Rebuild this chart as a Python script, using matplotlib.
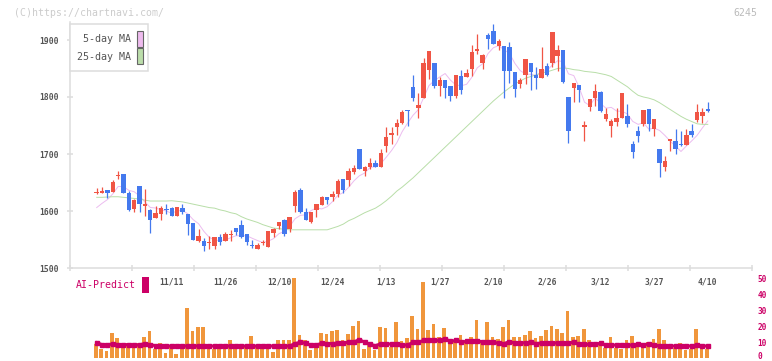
import matplotlib
matplotlib.use('Agg')
import matplotlib.pyplot as plt
from matplotlib.patches import Rectangle
from matplotlib.transforms import ScaledTranslation
import numpy as np

# daily prices (115 sessions, 2024/11 - 2025/4/10)
opens = [1631, 1632, 1636, 1634, 1662, 1665, 1632, 1604, 1644, 1609,
         1602, 1588, 1595, 1604, 1605, 1591, 1605, 1595, 1579, 1548,
         1547, 1544, 1539, 1554, 1548, 1558, 1570, 1575, 1560, 1540,
         1534, 1544, 1537, 1562, 1574, 1585, 1568, 1609, 1637, 1599,
         1580, 1602, 1611, 1624, 1625, 1629, 1656, 1654, 1668, 1709,
         1670, 1677, 1684, 1677, 1714, 1733, 1747, 1755, 1778, 1817,
         1780, 1798, 1848, 1860, 1819, 1830, 1819, 1802, 1837, 1835,
         1850, 1881, 1859, 1909, 1916, 1889, 1889, 1888, 1844, 1823,
         1838, 1860, 1839, 1834, 1854, 1859, 1872, 1882, 1800, 1816,
         1821, 1748, 1783, 1799, 1809, 1761, 1749, 1757, 1763, 1767,
         1717, 1740, 1753, 1779, 1744, 1709, 1678, 1723, 1723, 1717,
         1715, 1740, 1760, 1766, 1779]
highs = [1641, 1642, 1637, 1654, 1670, 1665, 1635, 1621, 1644, 1639,
         1604, 1608, 1609, 1612, 1607, 1607, 1613, 1595, 1579, 1569,
         1553, 1556, 1554, 1560, 1563, 1567, 1570, 1584, 1560, 1550,
         1543, 1550, 1565, 1571, 1581, 1586, 1589, 1637, 1641, 1605,
         1598, 1612, 1626, 1624, 1635, 1656, 1656, 1676, 1681, 1709,
         1679, 1693, 1690, 1709, 1747, 1747, 1762, 1777, 1778, 1838,
         1807, 1868, 1881, 1860, 1835, 1830, 1819, 1838, 1847, 1850,
         1891, 1910, 1876, 1912, 1928, 1901, 1889, 1896, 1844, 1834,
         1867, 1860, 1853, 1888, 1860, 1914, 1891, 1882, 1800, 1824,
         1821, 1758, 1796, 1823, 1810, 1781, 1761, 1781, 1807, 1788,
         1723, 1749, 1777, 1779, 1761, 1709, 1696, 1726, 1744, 1740,
         1744, 1753, 1788, 1781, 1792]
lows = [1629, 1631, 1622, 1634, 1656, 1631, 1600, 1599, 1599, 1591,
        1562, 1588, 1585, 1595, 1591, 1591, 1595, 1558, 1549, 1546,
        1529, 1534, 1534, 1541, 1548, 1548, 1558, 1552, 1540, 1535,
        1533, 1540, 1537, 1555, 1568, 1556, 1564, 1599, 1597, 1585,
        1579, 1590, 1611, 1613, 1618, 1625, 1631, 1643, 1665, 1674,
        1661, 1674, 1677, 1677, 1703, 1718, 1734, 1753, 1750, 1793,
        1763, 1798, 1832, 1816, 1802, 1798, 1793, 1798, 1806, 1835,
        1837, 1876, 1849, 1884, 1893, 1882, 1799, 1825, 1800, 1816,
        1823, 1812, 1814, 1834, 1836, 1853, 1846, 1824, 1719, 1792,
        1792, 1722, 1775, 1784, 1773, 1758, 1729, 1750, 1763, 1748,
        1693, 1721, 1750, 1741, 1732, 1660, 1670, 1706, 1700, 1714,
        1715, 1730, 1757, 1755, 1773]
closes = [1633, 1635, 1632, 1651, 1664, 1632, 1602, 1620, 1613, 1612,
          1584, 1597, 1605, 1602, 1591, 1607, 1598, 1578, 1550, 1556,
          1539, 1546, 1554, 1546, 1560, 1560, 1563, 1554, 1546, 1538,
          1540, 1546, 1565, 1569, 1581, 1560, 1589, 1633, 1599, 1585,
          1598, 1612, 1624, 1619, 1630, 1653, 1636, 1670, 1676, 1674,
          1677, 1685, 1677, 1702, 1730, 1736, 1755, 1774, 1776, 1798,
          1786, 1860, 1881, 1819, 1830, 1816, 1802, 1838, 1813, 1842,
          1879, 1884, 1874, 1902, 1893, 1898, 1846, 1845, 1814, 1829,
          1867, 1844, 1834, 1849, 1839, 1914, 1882, 1827, 1741, 1824,
          1812, 1751, 1796, 1810, 1775, 1770, 1758, 1764, 1807, 1753,
          1704, 1732, 1777, 1752, 1761, 1685, 1688, 1726, 1708, 1715,
          1733, 1733, 1774, 1774, 1776]
# last closes before the window, so the 5-day MA starts where the chart does
prev_closes = [1598, 1599, 1601, 1599]

ma25 = [1624, 1624, 1624.5, 1625, 1625, 1624, 1623, 1622, 1621, 1619,
        1617.5, 1617.5, 1617.5, 1617.5, 1618, 1617, 1616, 1614, 1612, 1610,
        1608, 1606, 1605, 1602, 1600, 1597, 1595, 1590, 1586, 1583,
        1580, 1576, 1573, 1570, 1569, 1568, 1567, 1567, 1567, 1567,
        1567, 1567, 1567, 1567, 1570, 1573, 1577, 1583, 1587, 1592,
        1597, 1601, 1605, 1611, 1618, 1626, 1635, 1642, 1650, 1658,
        1667, 1676, 1685, 1694, 1703, 1712, 1721, 1730, 1739, 1748,
        1757, 1766, 1775, 1784, 1793, 1801, 1809, 1816, 1823, 1828,
        1833, 1836, 1839, 1842, 1844, 1847, 1850, 1851, 1850, 1848,
        1847, 1845, 1844, 1843, 1841, 1839, 1836, 1830, 1824, 1818,
        1810, 1803, 1800, 1798, 1795, 1790, 1784, 1778, 1772, 1766,
        1761, 1757, 1753, 1752, 1752]

volume = [8.75, 5.4, 4.4, 15.4, 12.5, 8.75, 9.2, 6, 9.2, 13.1,
          16.9, 5.6, 9.4, 3.1, 6.7, 2.7, 7.1, 31.25, 16.9, 19.6,
          19.6, 5.6, 5.6, 8.75, 5.6, 11.25, 7.7, 7.7, 7.7, 13.75,
          7.7, 8.75, 7.7, 3.75, 11.25, 11.25, 11.25, 50, 14.4, 11.25,
          5, 8.75, 15.6, 14.8, 16.9, 17.5, 11.25, 15, 20, 23.1,
          5.6, 8.75, 5, 19.6, 18.75, 7, 22.5, 10.6, 12.5, 26.25,
          18.1, 47.5, 17.5, 21.25, 13.1, 18.75, 9.6, 10.8, 14.4, 9.6,
          13.1, 23.75, 9.6, 22.5, 13.1, 11.9, 19.4, 23.75, 13.1, 13.1,
          14.4, 16.9, 12.5, 13.75, 17.5, 20, 18.1, 15.6, 29.4, 13.1,
          13.75, 18.1, 11.25, 8.1, 10, 6.25, 13.1, 6.25, 5.6, 11.25,
          13.75, 8.1, 8.1, 10, 11.9, 18.1, 11.25, 6.25, 6.25, 9.4,
          5, 5.6, 18.1, 5.6, 5.6]

ai_predict = [9.6, 8.3, 8.3, 8.75, 8.3, 8.3, 8.3, 7.9, 8.3, 8.9,
              8.3, 7.7, 7.5, 7.5, 7.5, 7.5, 7.5, 7.5, 7.5, 7.5,
              7.5, 7.5, 7.5, 7.5, 7.5, 7.5, 7.5, 7.5, 7.5, 7.5,
              7.5, 7.5, 7.5, 7.5, 7.5, 7.5, 7.5, 9.0, 9.8, 9.2,
              7.9, 8.1, 9.2, 9.0, 9.0, 9.4, 9.6, 9.8, 10.0, 11.5,
              9.8, 8.5, 7.7, 8.9, 8.75, 8.75, 9.0, 8.1, 8.1, 9.8,
              9.8, 11.0, 11.0, 11.0, 11.0, 11.9, 10.4, 11.0, 10.0, 10.4,
              10.4, 10.8, 10.0, 9.8, 9.8, 9.2, 9.0, 10.2, 9.4, 9.6,
              9.4, 9.8, 9.0, 9.4, 9.4, 9.4, 9.4, 9.4, 9.4, 9.8,
              8.5, 8.5, 8.5, 8.5, 9.2, 8.1, 8.1, 8.1, 8.1, 8.1,
              8.1, 8.5, 8.3, 8.75, 8.1, 7.5, 7.5, 7.5, 7.5, 7.5,
              7.5, 7.5, 8.1, 7.5, 7.5]

date_labels = ['11/11', '11/26', '12/10', '12/24', '1/13', '1/27',
               '2/10', '2/26', '3/12', '3/27', '4/10']
date_idx = [14, 24, 34, 44, 54, 64, 74, 84, 94, 104, 114]
price_ticks = [1500, 1600, 1700, 1800, 1900]
volume_ticks = [0, 10, 20, 30, 40, 50]

W, H = 772, 361
UP, DOWN = '#f05545', '#4479ee'
GRID = '#dddddd'
MONO = 'DejaVu Sans Mono'
PINK = '#cc0066'


def fx(px):
    return px / W


def fy(py):
    return 1 - py / H


o = np.array(opens, float)
c = np.array(closes, float)
hi = np.array(highs, float)
lo = np.array(lows, float)
idx = np.arange(len(c))
ma5 = np.convolve(np.r_[prev_closes, c], np.ones(5) / 5, mode='valid')

fig = plt.figure(figsize=(W / 100, H / 100), dpi=100)
fig.patch.set_facecolor('white')

# ---- price panel
ax = fig.add_axes([fx(70), fy(268), (752 - 70) / W, (268 - 22) / H])
x0, x1 = -4.98, 122.25
ax.set_xlim(x0, x1)
ax.set_ylim(1500, 1500 + (268 - 22) / 0.57)

up = c >= o
colors = np.where(up, UP, DOWN)
ax.vlines(idx, lo, hi, colors=colors, linewidth=0.9, zorder=3)
ax.bar(idx, np.maximum(np.abs(c - o), 1.3), bottom=np.minimum(o, c),
       width=0.82, color=colors, linewidth=0, zorder=4)
ax.plot(idx, ma5, color='#ecbcf0', linewidth=0.7, zorder=2)
ax.plot(idx, ma25, color='#b8dea8', linewidth=0.7, zorder=2)

for s in ['top', 'right']:
    ax.spines[s].set_visible(False)
for s in ['left', 'bottom']:
    ax.spines[s].set_color(GRID)
    ax.spines[s].set_linewidth(1.1)
ax.set_xticks(np.linspace(x0, x1, 12))
ax.set_xticklabels([])
ax.tick_params(axis='x', direction='inout', length=5, width=1.1, color=GRID)
ax.set_yticks(price_ticks)
ax.set_yticklabels([str(t) for t in price_ticks])
ax.tick_params(axis='y', direction='inout', length=4.5, width=1.1, color=GRID,
               labelsize=5.8, labelcolor='#555555', pad=5.5)
for t in ax.get_yticklabels():
    t.set_family(MONO)
    t.set_fontweight('bold')

# legend box
fig.patches.append(Rectangle((fx(70), fy(71)), 78 / W, 47 / H, transform=fig.transFigure,
                             facecolor='white', edgecolor=GRID, linewidth=1.1, zorder=5))
fig.patches.append(Rectangle((fx(137), fy(46.5)), 5.5 / W, 15 / H, transform=fig.transFigure,
                             facecolor='#eebbee', edgecolor='#666666', linewidth=0.8, zorder=6))
fig.patches.append(Rectangle((fx(137), fy(63.5)), 5.5 / W, 15 / H, transform=fig.transFigure,
                             facecolor='#bbddaa', edgecolor='#666666', linewidth=0.8, zorder=6))
fig.text(fx(131), fy(39.5), '5-day MA', ha='right', va='center', fontsize=7.2,
         family=MONO, color='#555555', zorder=7)
fig.text(fx(131), fy(56.5), '25-day MA', ha='right', va='center', fontsize=7.2,
         family=MONO, color='#555555', zorder=7)

fig.text(fx(14), fy(12.5), '(C)https://chartnavi.com/', ha='left', va='center',
         fontsize=7.1, family=MONO, color='#cccccc')
fig.text(fx(757), fy(12.5), '6245', ha='right', va='center',
         fontsize=7.1, family=MONO, color='#bbbbbb')

# ---- AI-Predict panel
ax2 = fig.add_axes([fx(70), fy(358), (752 - 70) / W, 80 / H])
ax2.set_xlim(x0, x1)
ax2.set_ylim(0, 50)
ax2.patch.set_alpha(0)
for s in ax2.spines.values():
    s.set_visible(False)
ax2.bar(idx - 0.15, volume, width=0.69, color='#f0963c', linewidth=0, zorder=2)
ax2.plot(idx, ai_predict, color=PINK, linewidth=2.2, marker='s', markersize=2.6,
         zorder=3)
ax2.set_xticks([])
ax2.yaxis.tick_right()
ax2.set_yticks(volume_ticks)
ax2.set_yticklabels([str(t) for t in volume_ticks])
ax2.tick_params(axis='y', length=0, pad=4, labelsize=5.6, labelcolor=PINK)
for t in ax2.get_yticklabels():
    t.set_family(MONO)
    t.set_fontweight('bold')
# keep the "0" inside the figure edge
lift = ScaledTranslation(0, 2.5 / 100, fig.dpi_scale_trans)
zero_label = ax2.get_yticklabels()[0]
zero_label.set_transform(zero_label.get_transform() + lift)

for i, lab in zip(date_idx, date_labels):
    ax2.text(i, 47.5, lab, ha='center', va='center', fontsize=5.8, family=MONO,
             color='#555555', fontweight='bold')

fig.text(fx(76), fy(285), 'AI-Predict', ha='left', va='center', fontsize=7.1,
         family=MONO, color=PINK)
fig.patches.append(Rectangle((fx(142), fy(292.5)), 6.5 / W, 15.5 / H,
                             transform=fig.transFigure, facecolor=PINK, linewidth=0))

fig.savefig('out.png', dpi=100)
